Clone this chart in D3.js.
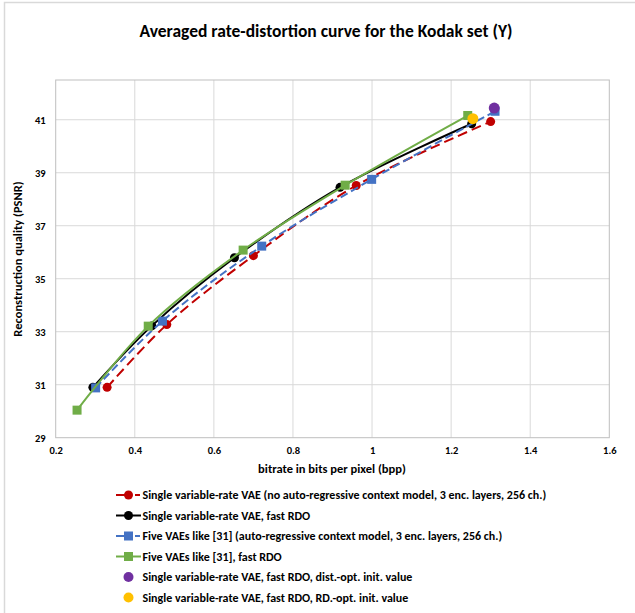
<!DOCTYPE html>
<html>
<head>
<script src="https://d3js.org/d3.v7.min.js"></script>
<style>
  body { margin: 0; background: #fff; }
  text { font-family: Carlito, Calibri, Lato, "Open Sans", sans-serif; font-weight: bold; fill: #000; }
</style>
</head>
<body>
<div id="chart"></div>
<script>
// values (bitrate in bpp, PSNR)
var redBpp   = [0.33, 0.481, 0.70, 0.96, 1.30];
var redPsnr  = [30.9, 33.27, 35.87, 38.52, 40.93];
var blackBpp  = [0.294, 0.443, 0.652, 0.919, 1.252];
var blackPsnr = [30.9, 33.22, 35.79, 38.45, 40.85];
var blueBpp   = [0.301, 0.47, 0.721, 0.999, 1.311];
var bluePsnr  = [30.88, 33.4, 36.23, 38.75, 41.32];
var greenBpp  = [0.254, 0.434, 0.674, 0.932, 1.242];
var greenPsnr = [30.04, 33.21, 36.08, 38.53, 41.16];
var purplePt = [1.309, 41.44];
var yellowPt = [1.255, 41.04];

var xTicks = [0.2, 0.4, 0.6, 0.8, 1.0, 1.2, 1.4, 1.6];
var yTicks = [29, 31, 33, 35, 37, 39, 41];

var legendLabels = [
  "Single variable-rate VAE (no auto-regressive context model, 3 enc. layers, 256 ch.)",
  "Single variable-rate VAE, fast RDO",
  "Five VAEs like [31] (auto-regressive context model, 3 enc. layers, 256 ch.)",
  "Five VAEs like [31], fast RDO",
  "Single variable-rate VAE, fast RDO, dist.-opt. init. value",
  "Single variable-rate VAE, fast RDO, RD.-opt. init. value"
];

function zip(a, b) { return a.map(function (v, i) { return [v, b[i]]; }); }

var series = [
  { pts: zip(redBpp, redPsnr),     color: "#C00000", dash: "10,5", shape: "circle" },
  { pts: zip(blackBpp, blackPsnr), color: "#000000", dash: null,  shape: "circle" },
  { pts: zip(blueBpp, bluePsnr),   color: "#4472C4", dash: "8,4", shape: "square" },
  { pts: zip(greenBpp, greenPsnr), color: "#70AD47", dash: null,  shape: "square" }
];
var singles = [
  { pt: purplePt, color: "#7030A0" },
  { pt: yellowPt, color: "#FFC000" }
];

var W = 635, H = 613;
var svg = d3.select("#chart").append("svg").attr("width", W).attr("height", H);

// outer chart frame (cropped at right/bottom)
svg.append("path").attr("d", "M4.5,613 L4.5,2.5 L635,2.5")
   .attr("fill", "none").attr("stroke", "#d9d9d9").attr("stroke-width", 1.5);

var x = d3.scaleLinear().domain([0.2, 1.6]).range([55.7, 609.3]);
var y = d3.scaleLinear().domain([29, 42.5]).range([437.7, 80]);

// gridlines
svg.append("g").selectAll("line").data(xTicks.slice(1, -1)).enter().append("line")
   .attr("x1", function (d) { return x(d); }).attr("x2", function (d) { return x(d); })
   .attr("y1", y(29)).attr("y2", y(42.5)).attr("stroke", "#d9d9d9");
svg.append("g").selectAll("line").data(yTicks.slice(1)).enter().append("line")
   .attr("x1", x(0.2)).attr("x2", x(1.6))
   .attr("y1", function (d) { return y(d); }).attr("y2", function (d) { return y(d); })
   .attr("stroke", "#d9d9d9");

svg.append("rect").attr("x", x(0.2)).attr("y", y(42.5))
   .attr("width", x(1.6) - x(0.2)).attr("height", y(29) - y(42.5))
   .attr("fill", "none").attr("stroke", "#bfbfbf");

// axes (labels only)
var xAxis = d3.axisBottom(x).tickValues(xTicks).tickSize(0).tickPadding(9)
  .tickFormat(function (d) { return d3.format("")(+d.toFixed(1)); });
var gx = svg.append("g").attr("transform", "translate(0," + y(29) + ")").call(xAxis);
gx.select(".domain").remove();
gx.selectAll("text").style("font-size", "10.5px").style("font-family", null);

var yAxis = d3.axisLeft(y).tickValues(yTicks).tickSize(0).tickPadding(10);
var gy = svg.append("g").attr("transform", "translate(" + x(0.2) + ",0)").call(yAxis);
gy.select(".domain").remove();
gy.selectAll("text").style("font-size", "10.5px").style("font-family", null);

// titles
svg.append("text").attr("x", 326).attr("y", 36.5).attr("text-anchor", "middle")
   .style("font-size", "17.5px").text("Averaged rate-distortion curve for the Kodak set (Y)");
svg.append("text").attr("x", 332).attr("y", 473).attr("text-anchor", "middle")
   .style("font-size", "12.5px").text("bitrate in bits per pixel (bpp)");
svg.append("text").attr("transform", "translate(22,259) rotate(-90)").attr("text-anchor", "middle")
   .style("font-size", "12.5px").text("Reconstruction quality (PSNR)");

// curves
var line = d3.line()
  .x(function (d) { return x(d[0]); })
  .y(function (d) { return y(d[1]); })
  .curve(d3.curveCatmullRom.alpha(0.5));

function marker(g, shape, color, cx, cy) {
  if (shape === "circle") {
    g.append("circle").attr("cx", cx).attr("cy", cy).attr("r", 4.5).attr("fill", color);
  } else {
    g.append("rect").attr("x", cx - 4.5).attr("y", cy - 4.5).attr("width", 9).attr("height", 9).attr("fill", color);
  }
}

series.forEach(function (s) {
  var g = svg.append("g");
  g.append("path").attr("d", line(s.pts)).attr("fill", "none")
   .attr("stroke", s.color).attr("stroke-width", 2)
   .attr("stroke-dasharray", s.dash);
  s.pts.forEach(function (p) { marker(g, s.shape, s.color, x(p[0]), y(p[1])); });
});
singles.forEach(function (s) {
  svg.append("circle").attr("cx", x(s.pt[0])).attr("cy", y(s.pt[1]))
     .attr("r", 5.5).attr("fill", s.color);
});

// legend
var legY0 = 495, legStep = 20.5;
var lg = svg.append("g");
legendLabels.forEach(function (label, i) {
  var cy = legY0 + i * legStep;
  if (i < 4) {
    var s = series[i];
    if (s.dash) {
      lg.append("line").attr("x1", 116).attr("x2", 126).attr("y1", cy).attr("y2", cy)
        .attr("stroke", s.color).attr("stroke-width", 2);
      lg.append("line").attr("x1", 135).attr("x2", 140).attr("y1", cy).attr("y2", cy)
        .attr("stroke", s.color).attr("stroke-width", 2);
    } else {
      lg.append("line").attr("x1", 116).attr("x2", 141).attr("y1", cy).attr("y2", cy)
        .attr("stroke", s.color).attr("stroke-width", 2);
    }
    marker(lg, s.shape, s.color, 128.5, cy);
  } else {
    lg.append("circle").attr("cx", 128.5).attr("cy", cy).attr("r", 5)
      .attr("fill", singles[i - 4].color);
  }
  lg.append("text").attr("x", 142.5).attr("y", cy + 4.2)
    .style("font-size", "12px").text(label);
});
</script>
</body>
</html>
